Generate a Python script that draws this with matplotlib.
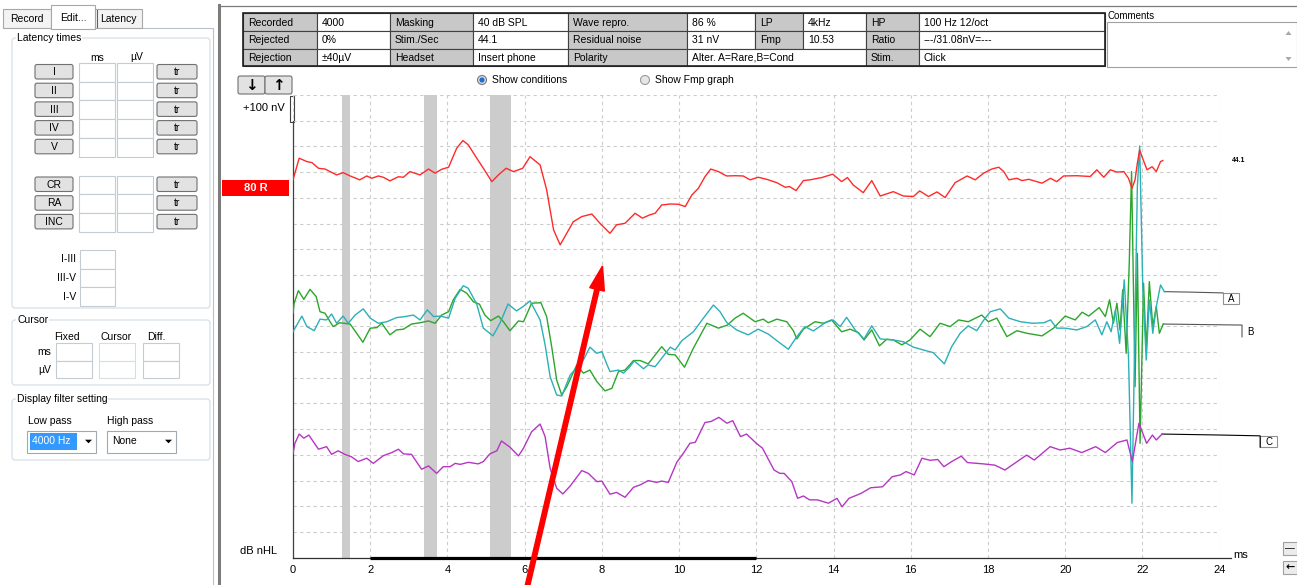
import matplotlib
matplotlib.use("Agg")
import matplotlib.pyplot as plt
from matplotlib.patches import Rectangle, FancyBboxPatch, Circle, FancyArrow, Polygon

plt.rcParams['font.family'] = ['Liberation Sans', 'DejaVu Sans']

# ---- recorded traces: time in ms, level in display rows (1 row = 100 nV) ----
red_t = [0.00, 0.16, 0.36, 0.49, 0.66, 0.83, 1.13, 1.30, 1.48, 1.73, 1.91, 2.04, 2.21, 2.34, 2.51,
         2.73, 2.86, 3.03, 3.29, 3.51, 3.68, 3.85, 4.03, 4.24, 4.40, 4.54, 4.76, 4.93, 5.15, 5.32,
         5.52, 5.71, 5.95, 6.14, 6.40, 6.57, 6.75, 6.92, 7.09, 7.26, 7.48, 7.74, 7.95, 8.21, 8.38,
         8.60, 8.86, 9.05, 9.23, 9.38, 9.55, 9.77, 9.98, 10.16, 10.33, 10.50, 10.67, 10.82, 11.02,
         11.23, 11.45, 11.66, 11.84, 12.05, 12.27, 12.53, 12.75, 12.86, 13.03, 13.22, 13.39, 13.70,
         13.98, 14.21, 14.36, 14.51, 14.77, 14.99, 15.21, 15.55, 15.81, 16.07, 16.23, 16.46, 16.68,
         16.89, 17.15, 17.46, 17.67, 17.89, 18.10, 18.28, 18.41, 18.54, 18.75, 18.88, 19.06, 19.40,
         19.62, 19.78, 19.96, 20.30, 20.65, 20.82, 21.00, 21.17, 21.34, 21.52, 21.64, 21.73, 21.81,
         21.87, 21.93, 21.99, 22.12, 22.25, 22.36, 22.47, 22.53]
red_v = [14.70, 15.54, 15.41, 15.37, 15.15, 15.12, 14.89, 14.98, 14.85, 14.70, 14.85, 14.76, 14.85,
         14.80, 14.66, 14.82, 14.80, 15.02, 14.89, 15.12, 14.96, 15.11, 15.19, 15.93, 16.23, 16.06,
         15.54, 15.15, 14.63, 14.89, 15.15, 15.02, 15.15, 15.60, 15.28, 14.31, 12.75, 12.17, 12.62,
         13.07, 13.27, 13.37, 13.01, 12.62, 12.95, 13.01, 13.40, 13.21, 13.33, 13.40, 13.72, 13.76,
         13.75, 13.66, 14.11, 14.37, 14.82, 15.12, 15.02, 14.85, 14.86, 14.85, 14.70, 14.80, 14.72,
         14.59, 14.41, 14.44, 14.28, 14.67, 14.70, 14.79, 14.92, 14.63, 14.79, 14.50, 14.20, 14.67,
         14.07, 14.24, 14.07, 14.05, 14.27, 14.05, 14.23, 14.01, 14.59, 14.85, 14.70, 14.96, 15.12,
         15.19, 15.02, 14.70, 14.76, 14.67, 14.72, 14.57, 14.76, 14.63, 14.85, 14.86, 14.83, 15.09,
         14.80, 15.09, 15.00, 15.02, 14.76, 14.37, 14.70, 15.35, 15.86, 15.60, 15.09, 15.21, 15.02,
         15.41, 15.45]

cyan_t = [0.00, 0.23, 0.36, 0.55, 0.70, 0.87, 1.00, 1.13, 1.30, 1.43, 1.61, 1.82, 2.00, 2.21, 2.43,
          2.68, 2.90, 3.12, 3.29, 3.48, 3.64, 3.81, 4.03, 4.20, 4.41, 4.54, 4.76, 4.93, 5.18, 5.36,
          5.57, 5.79, 5.96, 6.14, 6.40, 6.53, 6.66, 6.83, 6.96, 7.18, 7.52, 7.69, 7.87, 8.00, 8.12,
          8.21, 8.43, 8.56, 8.69, 8.84, 9.08, 9.20, 9.38, 9.55, 9.77, 9.90, 10.07, 10.37, 10.63,
          10.89, 11.06, 11.23, 11.49, 11.79, 12.05, 12.31, 12.57, 12.83, 13.05, 13.26, 13.48, 13.78,
          13.99, 14.17, 14.34, 14.56, 14.79, 14.99, 15.21, 15.55, 15.81, 16.07, 16.33, 16.58, 16.87,
          17.06, 17.28, 17.49, 17.71, 17.88, 18.06, 18.32, 18.54, 18.84, 19.15, 19.45, 19.62, 19.78,
          20.00, 20.30, 20.56, 20.78, 20.95, 21.08, 21.19, 21.30, 21.41, 21.53, 21.64, 21.73, 21.81,
          21.87, 21.93, 22.01, 22.10, 22.18, 22.27, 22.36, 22.47, 22.57]
cyan_v = [8.79, 9.40, 8.99, 8.83, 9.28, 9.25, 9.48, 9.12, 9.40, 9.12, 9.44, 9.68, 9.32, 9.12, 9.18,
          9.34, 9.38, 9.44, 9.25, 9.64, 9.38, 9.40, 9.32, 10.09, 10.58, 10.48, 9.86, 8.93, 8.63, 9.12,
          9.87, 9.60, 9.77, 9.99, 9.25, 8.28, 7.04, 6.33, 6.29, 7.11, 7.69, 8.19, 7.95, 8.02, 7.56,
          7.24, 7.30, 7.18, 7.37, 7.65, 7.35, 7.50, 7.43, 7.76, 8.19, 8.08, 8.44, 8.79, 9.32, 9.83,
          9.57, 9.16, 8.86, 8.67, 8.89, 8.70, 8.40, 8.11, 8.60, 8.99, 8.82, 9.14, 9.25, 8.99, 9.35,
          8.86, 8.51, 9.02, 8.51, 8.47, 8.40, 8.19, 8.08, 7.98, 7.54, 8.21, 8.73, 9.02, 8.83, 9.22,
          9.57, 9.68, 9.32, 9.18, 9.12, 9.14, 9.25, 8.93, 8.93, 8.86, 8.99, 9.25, 8.67, 9.18, 8.79,
          9.64, 8.34, 10.81, 7.82, 2.12, 9.25, 14.44, 16.02, 10.54, 7.69, 10.03, 8.73, 9.77, 10.61,
          10.35]

green_t = [0.00, 0.03, 0.14, 0.28, 0.44, 0.60, 0.70, 0.83, 0.96, 1.04, 1.21, 1.48, 1.65, 1.81, 2.00,
           2.17, 2.30, 2.51, 2.68, 2.86, 3.07, 3.29, 3.51, 3.68, 3.85, 4.03, 4.15, 4.33, 4.50, 4.67,
           4.83, 4.97, 5.12, 5.32, 5.45, 5.62, 5.84, 5.97, 6.18, 6.42, 6.57, 6.70, 6.83, 6.96, 7.09,
           7.35, 7.52, 7.69, 7.87, 8.08, 8.26, 8.43, 8.60, 8.82, 8.99, 9.20, 9.55, 9.72, 9.90, 10.14,
           10.37, 10.72, 11.02, 11.25, 11.45, 11.66, 11.97, 12.18, 12.31, 12.53, 12.79, 12.96, 13.05,
           13.22, 13.52, 13.74, 13.95, 14.21, 14.43, 14.65, 14.79, 14.99, 15.19, 15.38, 15.55, 15.77,
           15.98, 16.24, 16.50, 16.76, 17.02, 17.24, 17.49, 17.84, 18.01, 18.23, 18.49, 18.75, 19.01,
           19.40, 19.70, 20.00, 20.26, 20.44, 20.61, 20.88, 21.04, 21.15, 21.25, 21.34, 21.42, 21.49,
           21.58, 21.66, 21.72, 21.81, 21.87, 21.94, 22.03, 22.10, 22.18, 22.27, 22.36, 22.44, 22.54]
green_v = [9.51, 9.90, 10.39, 10.05, 10.44, 10.16, 9.57, 9.51, 9.18, 8.99, 9.14, 9.09, 8.73, 8.38,
           8.93, 8.95, 9.12, 8.67, 8.86, 8.89, 9.09, 9.14, 9.21, 9.12, 9.44, 9.57, 10.03, 10.44, 10.29,
           9.96, 9.86, 9.44, 9.22, 9.40, 9.18, 8.83, 9.21, 9.18, 9.90, 9.92, 9.38, 8.21, 6.91, 6.33,
           6.65, 7.50, 7.18, 7.30, 6.85, 6.49, 6.59, 7.24, 7.30, 7.67, 7.67, 7.54, 8.21, 7.91, 7.89,
           7.41, 8.15, 9.12, 8.93, 9.05, 9.32, 9.51, 9.18, 9.28, 9.14, 9.28, 9.18, 8.83, 8.51, 8.89,
           9.18, 9.12, 9.25, 8.79, 8.89, 8.75, 8.47, 8.86, 8.24, 8.50, 8.47, 8.28, 8.47, 8.89, 8.60,
           9.12, 8.99, 9.25, 9.18, 9.44, 9.18, 9.32, 8.60, 8.83, 8.73, 8.63, 8.93, 9.40, 9.25, 9.55,
           9.40, 9.73, 9.38, 10.03, 9.12, 9.90, 8.86, 10.42, 7.95, 11.46, 15.02, 6.65, 11.84, 4.45,
           10.68, 8.08, 10.74, 8.99, 9.77, 8.73, 9.09]

mag_t = [0.00, 0.05, 0.16, 0.28, 0.41, 0.66, 0.87, 1.00, 1.17, 1.34, 1.51, 1.69, 1.91, 2.08, 2.34,
         2.56, 2.73, 2.86, 3.07, 3.33, 3.51, 3.72, 3.89, 4.07, 4.20, 4.33, 4.54, 4.80, 4.93, 5.10,
         5.28, 5.40, 5.62, 5.84, 5.97, 6.18, 6.40, 6.53, 6.66, 6.83, 6.99, 7.18, 7.48, 7.65, 7.87,
         8.00, 8.21, 8.38, 8.60, 8.82, 8.99, 9.20, 9.42, 9.55, 9.72, 9.94, 10.11, 10.28, 10.42,
         10.67, 10.83, 11.03, 11.24, 11.39, 11.59, 11.75, 12.00, 12.16, 12.46, 12.61, 12.72, 12.92,
         13.07, 13.22, 13.38, 13.58, 13.87, 14.09, 14.22, 14.40, 14.71, 14.96, 15.27, 15.52, 15.73,
         15.88, 16.09, 16.29, 16.50, 16.70, 16.86, 17.06, 17.31, 17.47, 17.88, 18.18, 18.44, 18.69,
         19.00, 19.20, 19.61, 19.87, 20.12, 20.43, 20.79, 21.04, 21.35, 21.60, 21.74, 21.91, 22.11,
         22.26, 22.36, 22.51]
mag_v = [4.06, 4.45, 4.81, 4.65, 4.77, 4.22, 4.32, 4.02, 4.16, 4.02, 3.93, 3.74, 3.87, 3.67, 3.97,
         4.09, 4.22, 4.04, 4.02, 3.44, 3.57, 3.28, 3.54, 3.54, 3.67, 3.63, 3.71, 3.65, 3.74, 4.04,
         4.16, 4.54, 4.30, 3.96, 4.26, 4.90, 5.20, 4.71, 3.48, 2.70, 2.48, 2.79, 3.39, 3.28, 2.96,
         2.98, 2.47, 2.54, 2.35, 2.74, 2.83, 3.00, 2.93, 2.98, 2.93, 3.71, 4.06, 4.45, 4.49, 5.26,
         5.30, 5.46, 5.23, 5.33, 4.71, 4.81, 4.45, 4.26, 3.41, 3.28, 3.28, 2.96, 2.31, 2.40, 2.25,
         2.25, 2.12, 2.31, 1.98, 2.31, 2.50, 2.72, 2.76, 3.15, 3.22, 3.35, 3.22, 3.87, 3.79, 3.82,
         3.54, 3.74, 3.95, 3.70, 3.65, 3.60, 3.41, 3.67, 3.99, 3.80, 4.32, 4.19, 4.26, 4.09, 4.32,
         4.09, 4.48, 4.58, 3.74, 5.23, 4.45, 4.77, 4.58, 4.81]

marker_bands = [(1.28, 1.48), (3.39, 3.74), (5.09, 5.64)]
x_ticks = list(range(0, 25, 2))

# ---- screen texts ----
tab_names = ["Record", "Edit...", "Latency"]
wave_buttons = ["I", "II", "III", "IV", "V"]
extra_buttons = ["CR", "RA", "INC"]
interval_names = ["I-III", "III-V", "I-V"]
cursor_cols = ["Fixed", "Cursor", "Diff."]
cursor_rows = ["ms", "µV"]

table_row1 = ["Recorded", "4000", "Masking", "40 dB SPL", "Wave repro.", "86 %", "LP", "4kHz", "HP",
              "100 Hz 12/oct"]
table_row2 = ["Rejected", "0%", "Stim./Sec", "44.1", "Residual noise", "31 nV", "Fmp", "10.53",
              "Ratio", "---/31.08nV=---"]
table_row3 = ["Rejection", "±40µV", "Headset", "Insert phone", "Polarity", "Alter. A=Rare,B=Cond",
              "Stim.", "Click"]
row3_spans = [1, 1, 1, 1, 1, 3, 1, 1]

W, H = 1297, 585
fig = plt.figure(figsize=(W / 100, H / 100), dpi=100)
fig.patch.set_facecolor("white")
ui = fig.add_axes([0, 0, 1, 1])
ui.set_xlim(0, W)
ui.set_ylim(H, 0)
ui.axis("off")


def rect(x0, y0, x1, y1, fc="none", ec="none", lw=0.8, z=1):
    ui.add_patch(Rectangle((x0, y0), x1 - x0, y1 - y0, facecolor=fc, edgecolor=ec, linewidth=lw, zorder=z))


def rbox(x0, y0, x1, y1, fc, ec, lw=0.8, r=2.0, z=1):
    ui.add_patch(FancyBboxPatch((x0, y0), x1 - x0, y1 - y0, boxstyle=f"round,pad=0,rounding_size={r}",
                                facecolor=fc, edgecolor=ec, linewidth=lw, zorder=z))


def label(x, y, s, size=7.5, ha="left", color="black", weight="normal", z=3, bg=None, family=None):
    kw = {}
    if bg:
        kw["bbox"] = dict(facecolor=bg, edgecolor="none", pad=0.6)
    if family:
        kw["family"] = family
    ui.text(x, y, s, fontsize=size, ha=ha, va="center", color=color, fontweight=weight, zorder=z, **kw)


def button(x0, y0, x1, y1, s, size=7.5, weight="normal", family=None):
    rbox(x0, y0, x1, y1, "#e2e2e2", "#707070", lw=0.8, r=2)
    label((x0 + x1) / 2, (y0 + y1) / 2 + 0.5, s, size=size, ha="center", weight=weight, family=family)


def field(x0, y0, x1, y1, ec="#c3cbd3"):
    rect(x0, y0, x1, y1, fc="white", ec=ec, lw=0.8)


def arrow_down(cx, cy):
    ui.add_patch(Polygon([(cx - 3.5, cy - 1.8), (cx + 3.5, cy - 1.8), (cx, cy + 1.8)], closed=True,
                         facecolor="black", edgecolor="none", zorder=3))


# ---- left panel ----
ui.plot([142, 213, 213], [28, 28, 585], color="#b8c2cc", lw=0.8)
tab_boxes = [(3, 9, 51, 28), (51, 5, 95, 29), (95, 9, 142, 28)]
for name, (x0, y0, x1, y1) in zip(tab_names, tab_boxes):
    selected = name == "Edit..."
    rect(x0, y0, x1, y1, fc="white" if selected else "#f3f3f3", ec="#a8a8a8", lw=0.8, z=2)
    label((x0 + x1) / 2, (y0 + y1) / 2 + 1, name, size=7.5, ha="center", z=3)
ui.plot([97, 97], [10, 27], color="#606060", lw=0.8, zorder=3)

group_boxes = [("Latency times", 38, 308), ("Cursor", 320, 385), ("Display filter setting", 399, 460)]
for title, y0, y1 in group_boxes:
    rbox(12, y0, 210, y1, "none", "#d3dce4", lw=0.8, r=3)
    label(17, y0, title, size=7.5, bg="white")

label(97, 58, "ms", ha="center")
label(137, 57, "µV", ha="center")
for i, name in enumerate(wave_buttons):
    y0 = 63 + i * 18.7
    field(79, y0, 115, y0 + 18.7)
    field(117, y0, 153, y0 + 18.7)
    button(35, y0 + 1.5, 73, y0 + 16, name)
    button(157, y0 + 1.5, 197, y0 + 16, "tr")
for i, name in enumerate(extra_buttons):
    y0 = 175.5 + i * 18.7
    field(79, y0, 115, y0 + 18.7)
    field(117, y0, 153, y0 + 18.7)
    button(35, y0 + 1.5, 73, y0 + 16, name)
    button(157, y0 + 1.5, 197, y0 + 16, "tr")
for i, name in enumerate(interval_names):
    y0 = 250 + i * 18.7
    field(80, y0, 115, y0 + 18.7)
    label(76, y0 + 9.5, name, ha="right")

for name, cx in zip(cursor_cols, [67, 116, 156]):
    label(cx, 337, name, ha="center")
for j, name in enumerate(cursor_rows):
    label(51, 352 + j * 18, name, ha="right")
    for x0 in (56, 99, 143):
        field(x0, 343 + j * 17.5, x0 + 36, 360.5 + j * 17.5,
              ec="#d8dde2" if x0 == 99 else "#c3cbd3")

label(28, 421, "Low pass")
label(107, 421, "High pass")
field(27, 430.5, 96, 452.5, ec="#a0a8b0")
rect(30, 433, 77, 450, fc="#3399ff")
label(31.5, 441.5, "4000 Hz", color="white")
arrow_down(88.5, 441.5)
field(107, 430.5, 176, 452.5, ec="#a0a8b0")
label(112, 441.5, "None")
arrow_down(168.5, 441.5)

# ---- main area frame ----
ui.plot([219, 219], [5, H], color="#7c7c7c", lw=2.2)
ui.plot([219, W], [5.5, 5.5], color="#7c7c7c", lw=0.9)

# info table
cols = [243, 317, 390, 473, 568, 687, 755, 803, 866, 919, 1105]
rows_y = [13, 31, 48.5, 66]
for r, (cells, spans) in enumerate([(table_row1, [1] * 10), (table_row2, [1] * 10),
                                    (table_row3, row3_spans)]):
    c = 0
    for k, (txt, sp) in enumerate(zip(cells, spans)):
        x0, x1 = cols[c], cols[c + sp]
        rect(x0, rows_y[r], x1, rows_y[r + 1], fc="#c8c8c8" if k % 2 == 0 else "white",
             ec="#404040", lw=0.8)
        label(x0 + 5, (rows_y[r] + rows_y[r + 1]) / 2 + 0.5, txt, size=7.5)
        c += sp
rect(cols[0], rows_y[0], cols[-1], rows_y[-1], ec="#202020", lw=1.2, z=2)

label(1108, 16, "Comments", size=7)
rect(1107, 22, 1297, 67, fc="white", ec="#a0a0a0", lw=0.8)
ui.add_patch(Polygon([(1285.5, 35), (1291.5, 35), (1288.5, 31)], closed=True, facecolor="#a8a8a8", zorder=3))
ui.add_patch(Polygon([(1285.5, 57), (1291.5, 57), (1288.5, 61)], closed=True, facecolor="#a8a8a8", zorder=3))

button(238, 76, 265, 94, "↓", size=11, weight="bold", family="DejaVu Sans")
button(265, 76, 292, 94, "↑", size=11, weight="bold", family="DejaVu Sans")

ui.add_patch(Circle((482, 80), 4.5, facecolor="#dcdcdc", edgecolor="#7a7a7a", lw=0.8, zorder=3))
ui.add_patch(Circle((482, 80), 2.6, facecolor="#1e6fd9", edgecolor="none", zorder=4))
label(492, 80, "Show conditions", size=7.5)
ui.add_patch(Circle((645, 80), 4.5, facecolor="#e6e6e6", edgecolor="#9a9a9a", lw=0.8, zorder=3))
label(655, 80, "Show Fmp graph", size=7.5)

label(285, 108, "+100 nV", size=8, ha="right")
rect(290, 96, 294, 122, fc="white", ec="#404040", lw=0.8, z=2)
rect(222, 180, 289, 195.5, fc="#ff0000")
label(256, 188, "80 R", size=8, ha="center", color="white", weight="bold")
label(240, 551, "dB nHL", size=8)

rect(1283, 542, 1297, 555, fc="#ececec", ec="#a0a0a0")
label(1290, 548, "—", size=7, ha="center")
rect(1283, 561, 1297, 574, fc="#ececec", ec="#a0a0a0")
label(1290, 567, "←", size=8, ha="center", weight="bold", family="DejaVu Sans")

# ---- waveform axes ----
x_left, x_right, y_top, y_bot = 293, 1219.6, 95, 557.7
ax = fig.add_axes([x_left / W, (H - y_bot) / H, (x_right - x_left) / W, (y_bot - y_top) / H])
ax.patch.set_alpha(0)
ax.set_xlim(0, 24)
ax.set_ylim(0, 18)
for s in ("top", "right", "bottom"):
    ax.spines[s].set_visible(False)
ax.spines["left"].set_bounds(0, 17)
ax.spines["left"].set_color("#404040")
ax.spines["left"].set_linewidth(0.9)
ax.set_xticks(x_ticks)
ax.set_yticks(range(0, 19))
ax.set_yticklabels([])
ax.tick_params(axis="both", length=0)
ax.tick_params(axis="x", pad=5, labelsize=8)
ax.set_axisbelow(True)
ax.grid(True, color="#cccccc", lw=0.8, ls=(0, (3, 3)))

for a, b in marker_bands:
    ax.axvspan(a, b, color="#cccccc", lw=0, zorder=1)

ax.plot(green_t, green_v, color="#2ba62b", lw=1.0, zorder=3)
ax.plot(cyan_t, cyan_v, color="#2bb0b6", lw=1.0, zorder=3)
ax.plot(mag_t, mag_v, color="#b636c4", lw=1.0, zorder=3)
ax.plot(red_t, red_v, color="#ff2a2a", lw=1.0, zorder=4)

ax.plot([0, 24.3], [0, 0], color="#303030", lw=0.9, clip_on=False, zorder=5)
ax.plot([2, 12], [0, 0], color="black", lw=2.3, solid_capstyle="butt", clip_on=False, zorder=5)
ax.text(24.35, 0.1, "ms", fontsize=8, va="center", ha="left")

# trace end labels
ax.text(24.32, red_v[-1], "44.1", fontsize=5, fontweight="bold", va="center")
ax.plot([cyan_t[-1], 23.3, 24.09], [cyan_v[-1], cyan_v[-1] - 0.02, cyan_v[-1] - 0.05],
        color="#555555", lw=0.8, clip_on=False)
ax.add_patch(Rectangle((24.09, cyan_v[-1] - 0.48), 0.42, 0.43, facecolor="white", edgecolor="#909090",
                       lw=0.8, clip_on=False))
ax.text(24.30, cyan_v[-1] - 0.27, "A", fontsize=7, ha="center", va="center")
ax.plot([green_t[-1], 24.58, 24.58], [green_v[-1], green_v[-1] - 0.04, green_v[-1] - 0.5],
        color="#555555", lw=0.8, clip_on=False)
ax.text(24.80, green_v[-1] - 0.3, "B", fontsize=7, ha="center", va="center")
ax.plot([mag_t[-1], 24.1, 25.05, 25.05], [mag_v[-1], mag_v[-1] - 0.04, mag_v[-1] - 0.07, mag_v[-1] - 0.51],
        color="black", lw=0.8, clip_on=False)
ax.add_patch(Rectangle((25.05, mag_v[-1] - 0.51), 0.44, 0.44, facecolor="white", edgecolor="#909090",
                       lw=0.8, clip_on=False))
ax.text(25.27, mag_v[-1] - 0.29, "C", fontsize=7, ha="center", va="center")

# red pointer arrow on top of everything
top = fig.add_axes([0, 0, 1, 1], zorder=5)
top.set_xlim(0, W)
top.set_ylim(H, 0)
top.axis("off")
top.patch.set_alpha(0)
top.add_patch(FancyArrow(526, 592, 602.5 - 526, 266 - 592, width=4.5, head_width=15, head_length=24,
                         length_includes_head=True, color="#ff0000", clip_on=False))

fig.savefig("out.png", dpi=100)
